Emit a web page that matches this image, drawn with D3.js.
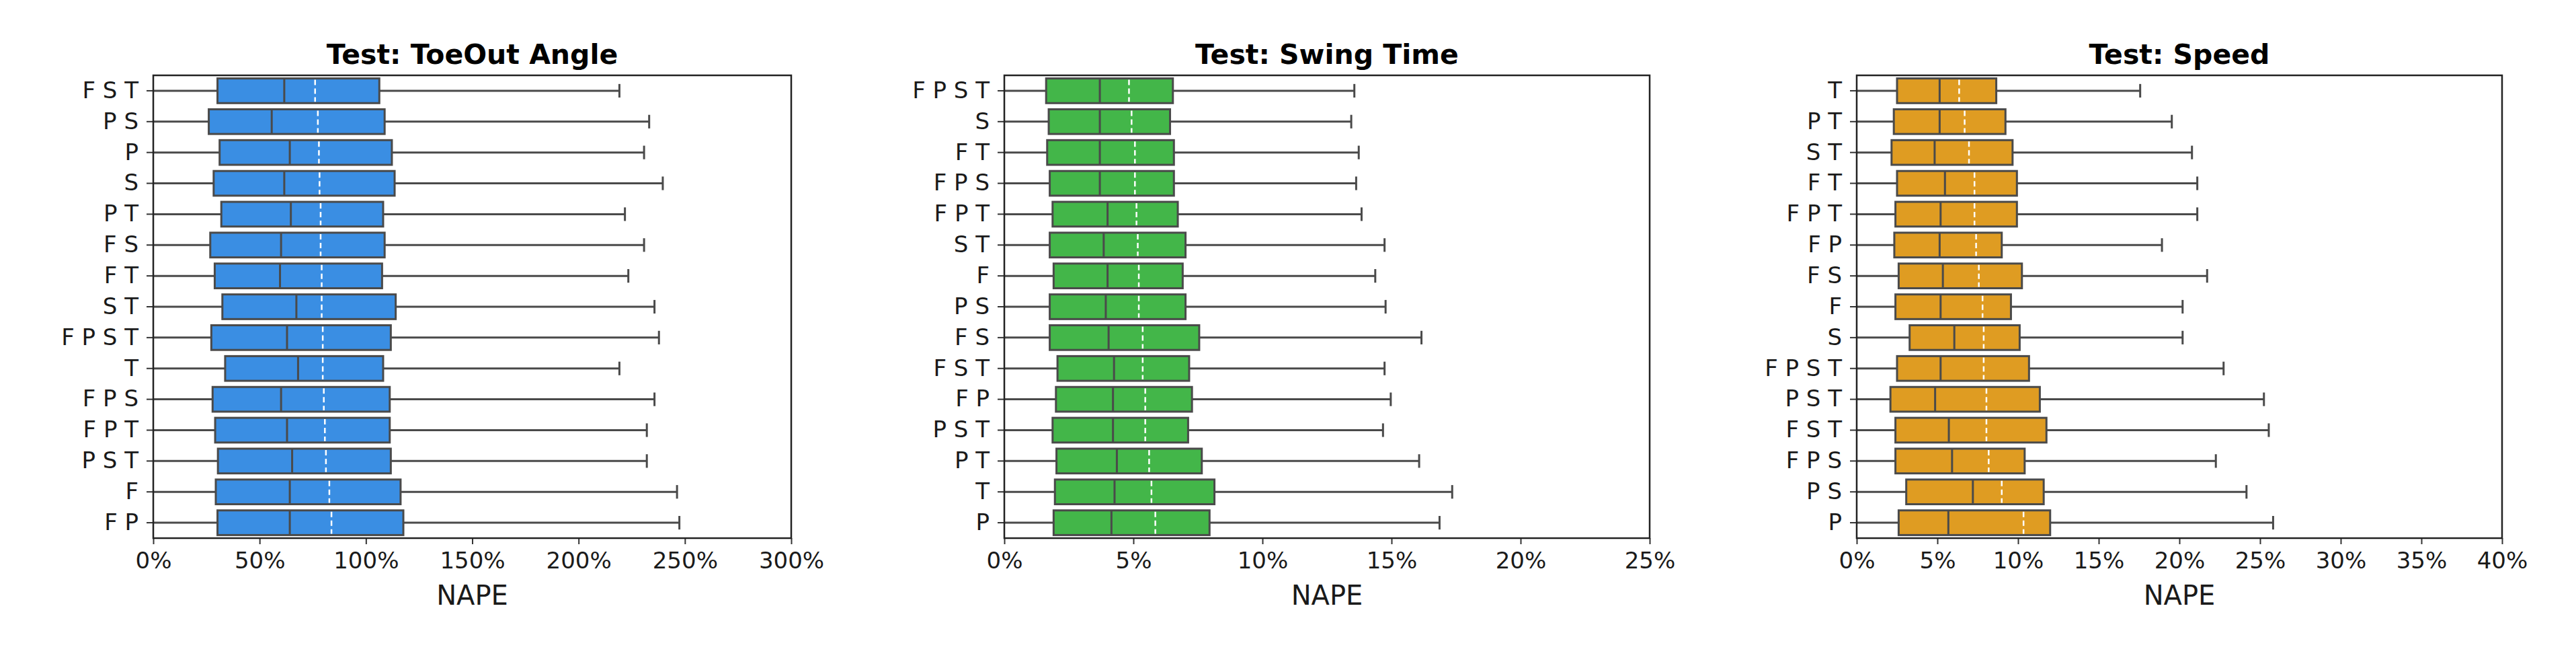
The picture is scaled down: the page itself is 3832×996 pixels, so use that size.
<!DOCTYPE html>
<html>
<head>
<meta charset="utf-8">
<script src="https://cdn.jsdelivr.net/npm/d3@7"></script>
<style>
  body { margin: 0; background: #fff; }
  svg text { font-family: "DejaVu Sans", sans-serif; fill: #1a1a1a; }
</style>
</head>
<body>
<svg id="chart" width="3832" height="996"></svg>
<script>
// ---- data, NAPE in % ----
const toeRows  = ["F S T", "P S", "P", "S", "P T", "F S", "F T", "S T", "F P S T", "T", "F P S", "F P T", "P S T", "F", "F P"];
const toeLo    = [0, 0, 0, 0, 0, 0, 0, 0, 0, 0, 0, 0, 0, 0, 0];
const toeQ1    = [30.2, 26.1, 31.2, 28.4, 32.0, 26.8, 28.9, 32.5, 27.3, 33.8, 27.9, 29.1, 30.4, 29.4, 30.2];
const toeMed   = [61.6, 55.7, 64.2, 61.6, 64.7, 60.1, 59.6, 67.3, 62.9, 68.1, 60.1, 62.9, 65.3, 64.2, 64.2];
const toeMean  = [76.1, 77.4, 77.9, 78.2, 78.7, 78.7, 79.2, 79.2, 79.7, 79.7, 80.2, 80.7, 81.2, 82.8, 83.8];
const toeQ3    = [106.3, 108.8, 112.2, 113.5, 108.1, 108.8, 107.6, 114.0, 111.7, 108.1, 111.2, 111.2, 111.7, 116.3, 117.6];
const toeHi    = [219.2, 233.2, 230.8, 239.6, 221.8, 230.8, 223.4, 235.7, 237.8, 219.2, 235.7, 232.1, 232.1, 246.3, 247.4];
const toeTicks = [0, 50, 100, 150, 200, 250, 300];

const swingRows  = ["F P S T", "S", "F T", "F P S", "F P T", "S T", "F", "P S", "F S", "F S T", "F P", "P S T", "P T", "T", "P"];
const swingLo    = [0, 0, 0, 0, 0, 0, 0, 0, 0, 0, 0, 0, 0, 0, 0];
const swingQ1    = [1.62, 1.72, 1.66, 1.76, 1.87, 1.76, 1.91, 1.76, 1.76, 2.06, 2.00, 1.87, 2.02, 1.96, 1.91];
const swingMed   = [3.70, 3.70, 3.70, 3.70, 4.00, 3.85, 4.00, 3.93, 4.04, 4.25, 4.21, 4.21, 4.36, 4.27, 4.15];
const swingMean  = [4.83, 4.93, 5.06, 5.06, 5.12, 5.17, 5.21, 5.21, 5.36, 5.36, 5.46, 5.46, 5.61, 5.70, 5.85];
const swingQ3    = [6.53, 6.42, 6.57, 6.57, 6.72, 7.02, 6.91, 7.02, 7.55, 7.16, 7.27, 7.12, 7.65, 8.14, 7.95];
const swingHi    = [13.56, 13.44, 13.73, 13.63, 13.84, 14.73, 14.37, 14.77, 16.16, 14.73, 14.97, 14.67, 16.07, 17.35, 16.86];
const swingTicks = [0, 5, 10, 15, 20, 25];

const speedRows  = ["T", "P T", "S T", "F T", "F P T", "F P", "F S", "F", "S", "F P S T", "P S T", "F S T", "F P S", "P S", "P"];
const speedLo    = [0, 0, 0, 0, 0, 0, 0, 0, 0, 0, 0, 0, 0, 0, 0];
const speedQ1    = [2.50, 2.30, 2.16, 2.50, 2.40, 2.33, 2.60, 2.40, 3.28, 2.50, 2.09, 2.40, 2.40, 3.07, 2.60];
const speedMed   = [5.14, 5.14, 4.83, 5.47, 5.20, 5.14, 5.34, 5.20, 6.05, 5.20, 4.86, 5.71, 5.91, 7.20, 5.68];
const speedMean  = [6.35, 6.69, 6.96, 7.30, 7.30, 7.40, 7.57, 7.80, 7.87, 7.87, 8.04, 8.04, 8.18, 8.99, 10.34];
const speedQ3    = [8.65, 9.22, 9.66, 9.93, 9.93, 8.99, 10.24, 9.56, 10.10, 10.68, 11.35, 11.76, 10.41, 11.59, 11.99];
const speedHi    = [17.57, 19.53, 20.78, 21.11, 21.11, 18.92, 21.72, 20.20, 20.20, 22.74, 25.24, 25.54, 22.26, 24.16, 25.81];
const speedTicks = [0, 5, 10, 15, 20, 25, 30, 35, 40];

const panels = [
  { title: "Test: ToeOut Angle", rows: toeRows, lo: toeLo, q1: toeQ1, med: toeMed, mean: toeMean, q3: toeQ3, hi: toeHi, ticks: toeTicks,
    color: "#3a8ee3", left: 228, right: 1177 },
  { title: "Test: Swing Time", rows: swingRows, lo: swingLo, q1: swingQ1, med: swingMed, mean: swingMean, q3: swingQ3, hi: swingHi, ticks: swingTicks,
    color: "#43b649", left: 1494, right: 2454 },
  { title: "Test: Speed", rows: speedRows, lo: speedLo, q1: speedQ1, med: speedMed, mean: speedMean, q3: speedQ3, hi: speedHi, ticks: speedTicks,
    color: "#df9c22", left: 2762, right: 3722 }
];

const TOP = 112, BOTTOM = 800;
const EDGE = "#4a4a4a";

const svg = d3.select("#chart");

panels.forEach(p => {
  const x = d3.scaleLinear()
    .domain([0, p.ticks[p.ticks.length - 1]])
    .range([p.left, p.right]);
  const y = d3.scaleBand().domain(p.rows).range([TOP, BOTTOM]);
  const bh = y.bandwidth() * 0.8;
  const cap = bh * 0.55;

  const stats = p.rows.map((r, i) => ({
    r: r, lo: p.lo[i], q1: p.q1[i], med: p.med[i], mean: p.mean[i], q3: p.q3[i], hi: p.hi[i]
  }));

  const g = svg.append("g");

  const row = g.selectAll("g.row")
    .data(stats)
    .enter()
    .append("g")
      .attr("class", "row")
      .attr("transform", d => `translate(0,${y(d.r) + y.bandwidth() / 2})`);

  // whiskers
  row.append("line")
    .attr("x1", d => x(d.lo)).attr("x2", d => x(d.q1))
    .attr("y1", 0).attr("y2", 0)
    .attr("stroke", EDGE).attr("stroke-width", 3);
  row.append("line")
    .attr("x1", d => x(d.q3)).attr("x2", d => x(d.hi))
    .attr("y1", 0).attr("y2", 0)
    .attr("stroke", EDGE).attr("stroke-width", 3);
  row.append("line")
    .attr("x1", d => x(d.hi)).attr("x2", d => x(d.hi))
    .attr("y1", -cap / 2).attr("y2", cap / 2)
    .attr("stroke", EDGE).attr("stroke-width", 3);

  // box
  row.append("rect")
    .attr("x", d => x(d.q1))
    .attr("width", d => x(d.q3) - x(d.q1))
    .attr("y", -bh / 2)
    .attr("height", bh)
    .attr("fill", p.color)
    .attr("stroke", EDGE)
    .attr("stroke-width", 3);

  // median
  row.append("line")
    .attr("x1", d => x(d.med)).attr("x2", d => x(d.med))
    .attr("y1", -bh / 2).attr("y2", bh / 2)
    .attr("stroke", EDGE).attr("stroke-width", 3);

  // mean (white dashed)
  row.append("line")
    .attr("x1", d => x(d.mean)).attr("x2", d => x(d.mean))
    .attr("y1", -bh / 2 + 2).attr("y2", bh / 2 - 2)
    .attr("stroke", "#fff").attr("stroke-width", 2.5)
    .attr("stroke-dasharray", "8,5");

  // axes
  const xAxis = g.append("g")
    .attr("transform", `translate(0,${BOTTOM})`)
    .call(d3.axisBottom(x).tickValues(p.ticks).tickFormat(d => d + "%").tickSize(9).tickPadding(12));
  const yAxis = g.append("g")
    .attr("transform", `translate(${p.left},0)`)
    .call(d3.axisLeft(y).tickSize(10).tickPadding(12));

  [xAxis, yAxis].forEach(a => {
    a.select(".domain").remove();
    a.selectAll(".tick line").attr("stroke", "#333").attr("stroke-width", 2);
    a.selectAll(".tick text").attr("font-size", 34).style("fill", "#1a1a1a");
  });

  // frame
  g.append("rect")
    .attr("x", p.left).attr("y", TOP)
    .attr("width", p.right - p.left).attr("height", BOTTOM - TOP)
    .attr("fill", "none").attr("stroke", "#222").attr("stroke-width", 2.5);

  // title + x label
  g.append("text")
    .attr("x", (p.left + p.right) / 2).attr("y", 95)
    .attr("text-anchor", "middle")
    .attr("font-size", 41).attr("font-weight", "bold")
    .style("fill", "#000")
    .text(p.title);

  g.append("text")
    .attr("x", (p.left + p.right) / 2).attr("y", 899)
    .attr("text-anchor", "middle")
    .attr("font-size", 40)
    .text("NAPE");
});
</script>
</body>
</html>
